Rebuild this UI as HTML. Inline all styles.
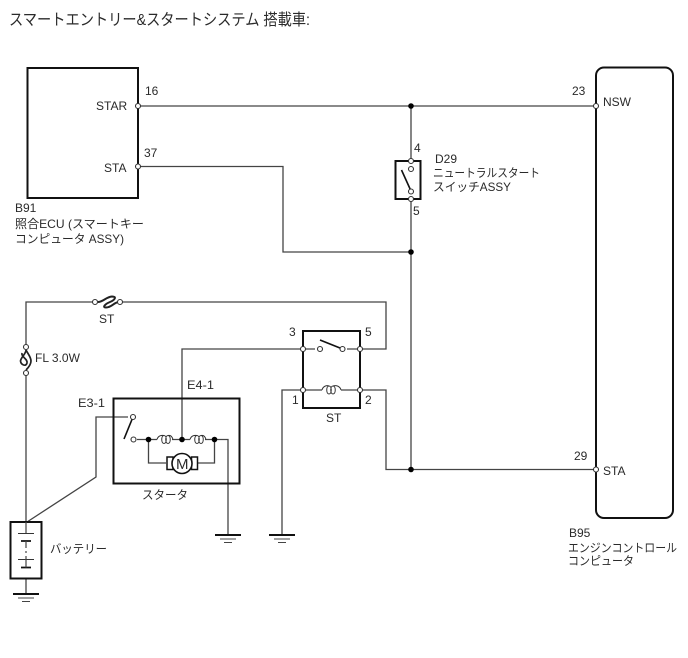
<!DOCTYPE html>
<html>
<head>
<meta charset="utf-8">
<style>
html,body{margin:0;padding:0;background:#fff;}
svg{display:block;}
text{font-family:"Liberation Sans","Noto Sans CJK JP",sans-serif;font-size:12px;fill:#2a2a2a;}
.w{fill:none;stroke:#444;stroke-width:1.3;}
.b{fill:none;stroke:#111;stroke-width:2;}
.o{fill:#fff;stroke:#333;stroke-width:1.1;}
.d{fill:#000;}
</style>
</head>
<body>
<svg width="688" height="658" viewBox="0 0 688 658" xmlns="http://www.w3.org/2000/svg">
<rect width="688" height="658" fill="#fff"/>
<text x="9" y="25" style="font-size:16px" textLength="301" lengthAdjust="spacingAndGlyphs">スマートエントリー&amp;スタートシステム 搭載車:</text>

<!-- wires -->
<path class="w" d="M138 106H596M411 106V161M411 199V469.5M138 166.5H283V252H411"/>
<path class="w" d="M26 347V302H95M120 302H386V349H360M26 373V522"/>
<path class="w" d="M303 349H182V439M303 390H282V535M360 390H386V469.5H596"/>
<path class="w" d="M128 417H96V477L27 522"/>
<path class="w" d="M137 439.5H157M172 439.5H190M205 439.5H228V535M148.5 439.5V463H166M214.5 439.5V463H198"/>
<path class="w" d="M26 578V594"/>

<!-- boxes -->
<rect class="b" x="27.5" y="68" width="110.5" height="130"/>
<rect class="b" x="596" y="67.5" width="77" height="450.5" rx="8"/>
<rect class="b" x="395.5" y="161" width="25" height="38"/>
<rect class="b" x="303" y="331" width="57" height="77"/>
<rect class="b" x="113.5" y="398.5" width="126" height="85"/>
<rect class="b" x="10.5" y="522" width="31" height="56.5"/>

<!-- switches -->
<path d="M401.5 170L411 191" stroke="#111" stroke-width="1.6" fill="none"/>
<path d="M320 340L342.5 349" stroke="#111" stroke-width="1.6" fill="none"/>
<path d="M303 349H315M347 349H360M303 390H322M341 390H360" stroke="#444" stroke-width="1.2" fill="none"/>
<path d="M124 439L133 417" stroke="#111" stroke-width="1.6" fill="none"/>

<!-- coils -->
<path d="M322 390C323 386 327 385 329 386M329 386C326 386 326 394 329 394C332 394 332 386 329 386M333 386C330 386 330 394 333 394C336 394 336 386 333 386M333 386C336 385 340 386 341 390" fill="none" stroke="#333" stroke-width="1"/>
<path d="M157 439.5C158 436 161 435 164 435.5M164 435.5C161 435.5 161 443.5 164 443.5C167 443.5 167 435.5 164 435.5M168 435.5C165 435.5 165 443.5 168 443.5C171 443.5 171 435.5 168 435.5M168 435.5C170 435 172 436 173 439.5" fill="none" stroke="#333" stroke-width="1"/>
<path d="M190 439.5C191 436 194 435 197 435.5M197 435.5C194 435.5 194 443.5 197 443.5C200 443.5 200 435.5 197 435.5M201 435.5C198 435.5 198 443.5 201 443.5C204 443.5 204 435.5 201 435.5M201 435.5C203 435 205 436 206 439.5" fill="none" stroke="#333" stroke-width="1"/>

<!-- motor -->
<rect x="167" y="457" width="6" height="12.5" fill="#fff" stroke="#111" stroke-width="1.5"/>
<rect x="191.5" y="457" width="6" height="12.5" fill="#fff" stroke="#111" stroke-width="1.5"/>
<circle cx="182" cy="463.5" r="10" fill="#fff" stroke="#111" stroke-width="1.6"/>
<text x="176" y="469" style="font-size:15px">M</text>

<!-- fuses -->
<path d="M98 302C103 302 106 297 112 296.5C117 296.5 115 300 110 302C105 304 102 307.5 106 307.5C112 307.5 114 302 119 302" fill="none" stroke="#222" stroke-width="2"/>
<path d="M26 350C26 354 21 357 20.5 361C21 365 26 367 27 363C28 359 21 357 22 353M26 350C28 354 31 357 31 361C31 365 27 369 26 370" fill="none" stroke="#222" stroke-width="1.7"/>

<!-- battery -->
<path d="M18 533.5H34M18 559.5H34" stroke="#333" stroke-width="1.1"/>
<path d="M21 541H31M21 567.5H31" stroke="#111" stroke-width="1.8"/>
<path d="M26 522V533M26 541V548M26 551V553M26 556V567.5" stroke="#444" stroke-width="1.2" fill="none"/>

<!-- grounds -->
<path d="M13 594H39" stroke="#111" stroke-width="2"/><path d="M18 598H34M22 601.5H30" stroke="#444" stroke-width="1.1"/>
<path d="M215 535H241" stroke="#111" stroke-width="2"/><path d="M220 539H236M224 542.5H232" stroke="#444" stroke-width="1.1"/>
<path d="M269 535H295" stroke="#111" stroke-width="2"/><path d="M274 539H290M278 542.5H286" stroke="#444" stroke-width="1.1"/>

<!-- junctions -->
<circle class="d" cx="411" cy="106" r="2.8"/>
<circle class="d" cx="411" cy="252" r="2.8"/>
<circle class="d" cx="411" cy="469.5" r="2.8"/>
<circle class="d" cx="148.5" cy="439.5" r="2.8"/>
<circle class="d" cx="182" cy="439.5" r="2.8"/>
<circle class="d" cx="214.5" cy="439.5" r="2.8"/>

<!-- terminals -->
<circle class="o" cx="138" cy="106" r="2.5"/>
<circle class="o" cx="138" cy="166.5" r="2.5"/>
<circle class="o" cx="596" cy="106" r="2.5"/>
<circle class="o" cx="596" cy="469.5" r="2.5"/>
<circle class="o" cx="411" cy="161" r="2.5"/>
<circle class="o" cx="411" cy="169" r="2.5"/>
<circle class="o" cx="411" cy="191.5" r="2.5"/>
<circle class="o" cx="411" cy="199" r="2.5"/>
<circle class="o" cx="303" cy="349" r="2.5"/>
<circle class="o" cx="320" cy="349" r="2.5"/>
<circle class="o" cx="342.5" cy="349" r="2.5"/>
<circle class="o" cx="360" cy="349" r="2.5"/>
<circle class="o" cx="303" cy="390" r="2.5"/>
<circle class="o" cx="360" cy="390" r="2.5"/>
<circle class="o" cx="133" cy="417" r="2.5"/>
<circle class="o" cx="133.5" cy="439.5" r="2.5"/>
<circle class="o" cx="95" cy="302" r="2.5"/>
<circle class="o" cx="120" cy="302" r="2.5"/>
<circle class="o" cx="26" cy="347" r="2.5"/>
<circle class="o" cx="26" cy="373" r="2.5"/>

<!-- labels -->
<text x="96" y="110">STAR</text>
<text x="104" y="172">STA</text>
<text x="145" y="95">16</text>
<text x="144" y="157">37</text>
<text x="15" y="212">B91</text>
<text x="15" y="228" textLength="129" lengthAdjust="spacingAndGlyphs">照合ECU (スマートキー</text>
<text x="15" y="243" textLength="109" lengthAdjust="spacingAndGlyphs">コンピュータ ASSY)</text>
<text x="572" y="95">23</text>
<text x="603" y="106">NSW</text>
<text x="414" y="152">4</text>
<text x="413" y="215">5</text>
<text x="435" y="163">D29</text>
<text x="433" y="177" textLength="107" lengthAdjust="spacingAndGlyphs">ニュートラルスタート</text>
<text x="433" y="191" textLength="78" lengthAdjust="spacingAndGlyphs">スイッチASSY</text>
<text x="99" y="323">ST</text>
<text x="35" y="362">FL 3.0W</text>
<text x="187" y="389" textLength="27" lengthAdjust="spacingAndGlyphs">E4-1</text>
<text x="78" y="407" textLength="27" lengthAdjust="spacingAndGlyphs">E3-1</text>
<text x="289" y="336">3</text>
<text x="365" y="336">5</text>
<text x="292" y="404">1</text>
<text x="365" y="404">2</text>
<text x="326" y="422">ST</text>
<text x="142" y="499" textLength="46" lengthAdjust="spacingAndGlyphs">スタータ</text>
<text x="50" y="553" textLength="57" lengthAdjust="spacingAndGlyphs">バッテリー</text>
<text x="574" y="460">29</text>
<text x="603" y="475">STA</text>
<text x="569" y="537">B95</text>
<text x="568" y="552" textLength="109" lengthAdjust="spacingAndGlyphs">エンジンコントロール</text>
<text x="568" y="565" textLength="66" lengthAdjust="spacingAndGlyphs">コンピュータ</text>
</svg>
</body>
</html>
